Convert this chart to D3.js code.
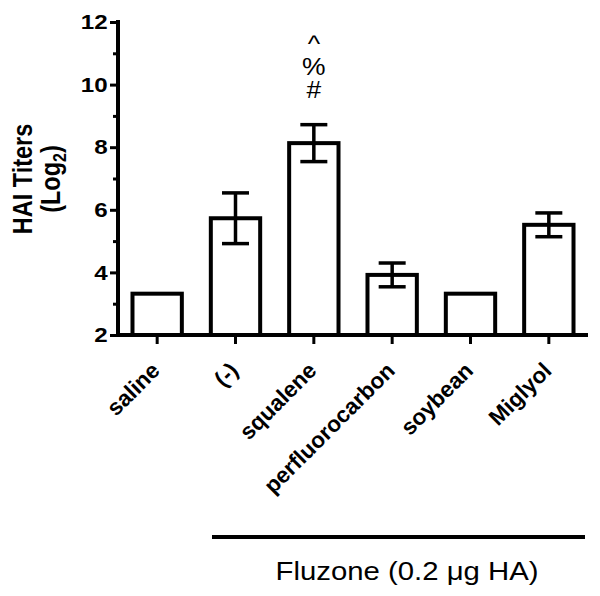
<!DOCTYPE html>
<html>
<head>
<meta charset="utf-8">
<script src="https://cdn.jsdelivr.net/npm/d3@7"></script>
<style>
  body { margin: 0; background: #fff; }
  svg text { font-family: "Liberation Sans", Arial, sans-serif; }
</style>
</head>
<body>
<div id="chart"></div>
<script>
// data
var groups = ["saline", "(-)", "squalene", "perfluorocarbon", "soybean", "Miglyol"];
var means = [3.32, 5.73, 8.13, 3.92, 3.32, 5.52];
var errs = [0, 0.81, 0.59, 0.38, 0, 0.38];
var marks = ["", "", "#\n%\n^", "", "", ""];
var yTicks = [2, 4, 6, 8, 10, 12];
var yMinor = [3, 5, 7, 9, 11];

var width = 600, height = 596;
var sx = 1.15; // the figure's text is a bit wider than tall

var svg = d3.select("#chart").append("svg")
    .attr("width", width)
    .attr("height", height);

var x = d3.scaleBand()
    .domain(groups)
    .range([118, 588])
    .paddingInner(0.37)
    .paddingOuter(0.185);

var y = d3.scaleLinear()
    .domain([2, 12])
    .range([335, 22]);

// bars
svg.selectAll("rect.bar")
    .data(groups)
    .enter().append("rect")
    .attr("class", "bar")
    .attr("x", function (d) { return x(d); })
    .attr("y", function (d, i) { return y(means[i]); })
    .attr("width", x.bandwidth())
    .attr("height", function (d, i) { return y(2) - y(means[i]); })
    .attr("fill", "#fff")
    .attr("stroke", "#000")
    .attr("stroke-width", 4);

// error bars (SEM)
var capW = 27;
groups.forEach(function (g, i) {
    if (errs[i] <= 0) return;
    var cx = x(g) + x.bandwidth() / 2;
    var e = svg.append("g").attr("stroke", "#000").attr("stroke-width", 3.5);
    e.append("line")
        .attr("x1", cx).attr("x2", cx)
        .attr("y1", y(means[i] + errs[i])).attr("y2", y(means[i] - errs[i]));
    [means[i] + errs[i], means[i] - errs[i]].forEach(function (v) {
        e.append("line")
            .attr("x1", cx - capW / 2).attr("x2", cx + capW / 2)
            .attr("y1", y(v)).attr("y2", y(v));
    });
});

// significance marks above bars
groups.forEach(function (g, i) {
    if (!marks[i]) return;
    var cx = x(g) + x.bandwidth() / 2;
    var lines = marks[i].split("\n");
    var top = y(means[i] + errs[i]) - 27;
    lines.forEach(function (s, k) {
        svg.append("text")
            .attr("transform", "translate(" + cx + "," + (top - k * 23) + ") scale(" + sx + ",1)")
            .attr("text-anchor", "middle")
            .attr("font-size", 23)
            .text(s);
    });
});

// y axis
var yAxis = svg.append("g")
    .attr("transform", "translate(118,0)")
    .call(d3.axisLeft(y).tickValues(yTicks).tickSize(8));
yAxis.select(".domain").attr("stroke-width", 4).attr("d", "M0," + (y(2) + 2) + "V" + (y(12) - 2));
yAxis.selectAll(".tick line").attr("stroke-width", 3);
yAxis.selectAll(".tick text")
    .attr("x", -9)
    .attr("transform", "scale(" + sx + ",1)")
    .attr("font-size", 21).attr("font-weight", "bold")
    .attr("font-family", "Liberation Sans, Arial, sans-serif");

var yMinorAxis = svg.append("g")
    .attr("transform", "translate(118,0)")
    .call(d3.axisLeft(y).tickValues(yMinor).tickSize(5).tickFormat(""));
yMinorAxis.select(".domain").remove();
yMinorAxis.selectAll(".tick line").attr("stroke-width", 3);

// x axis
var xAxis = svg.append("g")
    .attr("transform", "translate(0,335)")
    .call(d3.axisBottom(x).tickSize(9).tickFormat(""));
xAxis.select(".domain").attr("stroke-width", 4).attr("d", "M116,0H588");
xAxis.selectAll(".tick line").attr("stroke-width", 3);

svg.selectAll("text.xlab")
    .data(groups)
    .enter().append("text")
    .attr("class", "xlab")
    .attr("text-anchor", "end")
    .attr("font-size", 22.5)
    .attr("font-weight", "bold")
    .attr("transform", function (d) {
        return "translate(" + (x(d) + x.bandwidth() / 2 + 4) + ",372) rotate(-45)";
    })
    .text(function (d) { return d; });

// y axis title
var yt = svg.append("text")
    .attr("transform", "translate(0,179) scale(" + sx + ",1) rotate(-90)")
    .attr("text-anchor", "middle")
    .attr("font-size", 23.5)
    .attr("font-weight", "bold");
yt.append("tspan").attr("x", 0).attr("y", 28).text("HAI Titers");
var t2 = yt.append("tspan").attr("x", 0).attr("y", 52);
t2.append("tspan").text("(Log");
t2.append("tspan").attr("font-size", 16).attr("dy", 5).text("2");
t2.append("tspan").attr("dy", -5).text(")");

// group bracket
svg.append("line")
    .attr("x1", 212).attr("x2", 585)
    .attr("y1", 537).attr("y2", 537)
    .attr("stroke", "#000").attr("stroke-width", 4);
svg.append("text")
    .attr("transform", "translate(407,580) scale(" + sx + ",1)")
    .attr("text-anchor", "middle")
    .attr("font-size", 25.5)
    .text("Fluzone (0.2 \u03bcg HA)");
</script>
</body>
</html>
